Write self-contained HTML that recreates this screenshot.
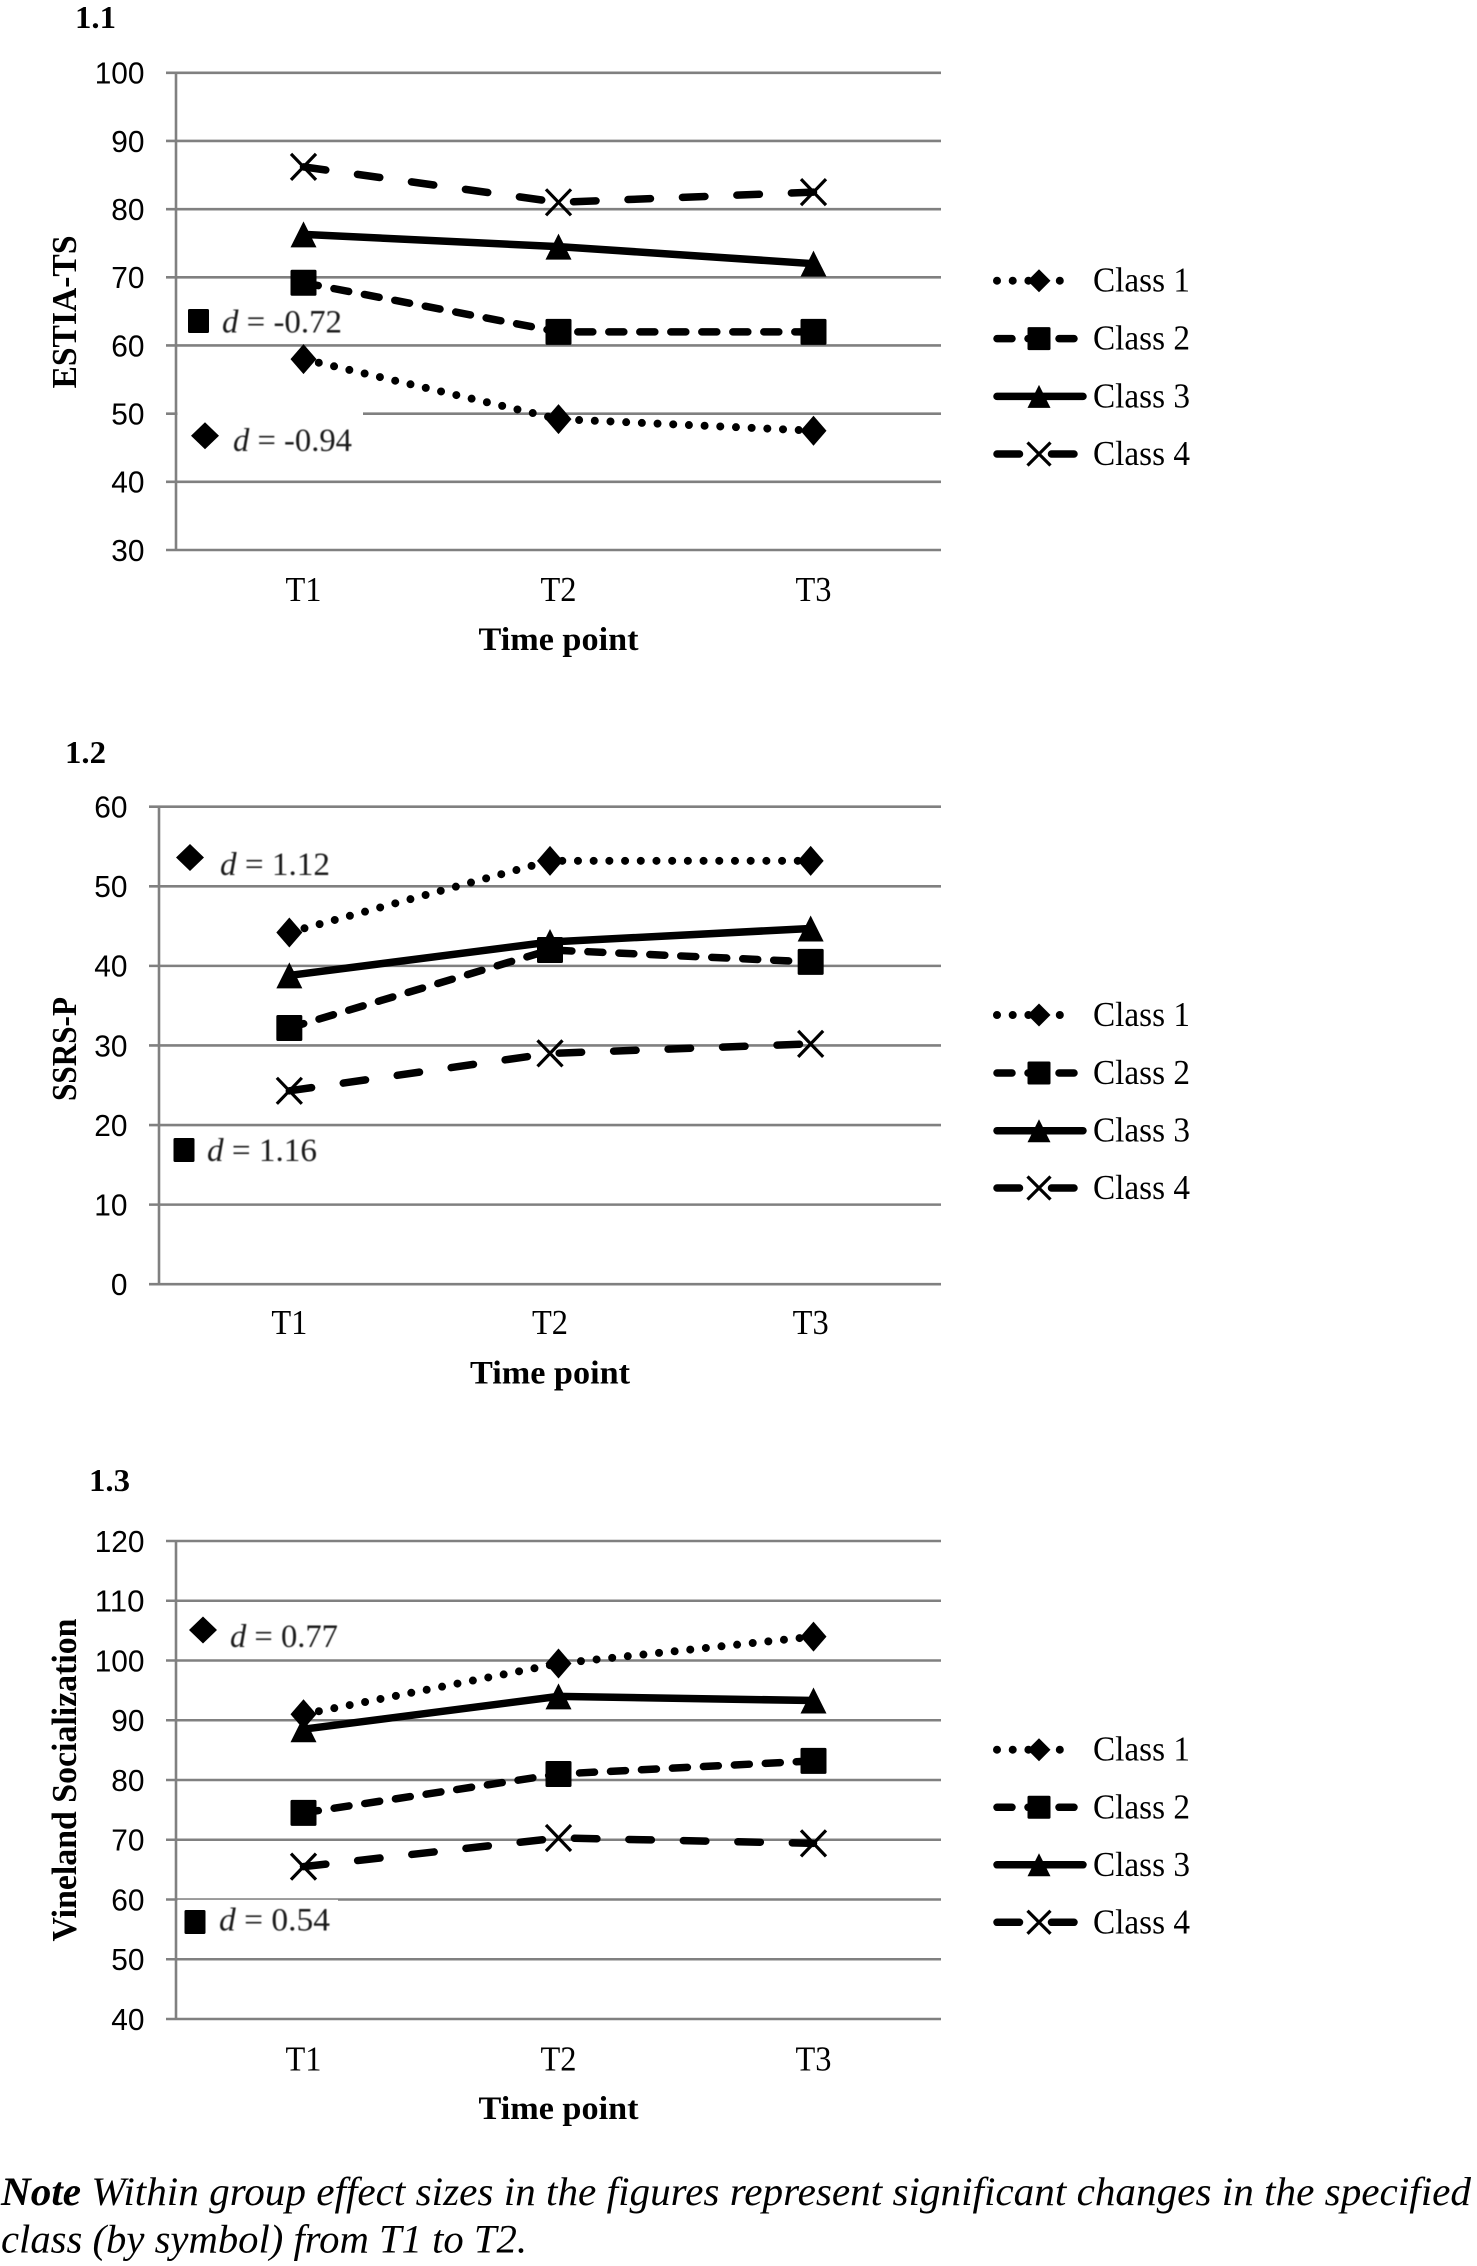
<!DOCTYPE html>
<html lang="en">
<head>
<meta charset="utf-8">
<title>Class trajectories across time points</title>
<style>
html,body{margin:0;padding:0;background:#fff;}
svg{display:block;}
text{fill:#000;}
</style>
</head>
<body>
<svg id="figure" xmlns="http://www.w3.org/2000/svg" width="1477" height="2266" viewBox="0 0 1477 2266">
<rect x="0" y="0" width="1477" height="2266" fill="#fff"/>
<text x="1" y="2205" font-family="'Liberation Serif',serif" font-size="40" font-style="italic" textLength="1470" lengthAdjust="spacingAndGlyphs"><tspan font-weight="bold">Note</tspan> Within group effect sizes in the figures represent significant changes in the specified</text>
<text x="1" y="2252.5" font-family="'Liberation Serif',serif" font-size="40" font-style="italic" textLength="526" lengthAdjust="spacingAndGlyphs">class (by symbol) from T1 to T2.</text>
</svg>
<script>
const categories = ['T1', 'T2', 'T3'];
const classNames = ['Class 1', 'Class 2', 'Class 3', 'Class 4'];

const estiaTicks = [30, 40, 50, 60, 70, 80, 90, 100];
const estiaClass1 = [58, 49.2, 47.5];
const estiaClass2 = [69.2, 62, 62];
const estiaClass3 = [76.3, 74.5, 72];
const estiaClass4 = [86.2, 81, 82.5];

const ssrsTicks = [0, 10, 20, 30, 40, 50, 60];
const ssrsClass1 = [44.2, 53.2, 53.2];
const ssrsClass2 = [32.2, 42, 40.5];
const ssrsClass3 = [38.8, 43, 44.7];
const ssrsClass4 = [24.3, 29, 30.2];

const vinelandTicks = [40, 50, 60, 70, 80, 90, 100, 110, 120];
const vinelandClass1 = [91, 99.5, 104];
const vinelandClass2 = [74.5, 81, 83.2];
const vinelandClass3 = [88.5, 94, 93.3];
const vinelandClass4 = [65.5, 70.3, 69.4];

const NS = 'http://www.w3.org/2000/svg';
const root = document.getElementById('figure');
const SERIF = "'Liberation Serif',serif";
const SANS = "'Liberation Sans',sans-serif";
const GRID = '#808080';

function mk(tag, attrs, parent) {
  const n = document.createElementNS(NS, tag);
  for (const k in attrs) n.setAttribute(k, attrs[k]);
  (parent || root).appendChild(n);
  return n;
}

function seriesStyle(kind) {
  if (kind === 0) return {'stroke-width': 8, 'stroke-dasharray': '0 15.7', 'stroke-linecap': 'round'};
  if (kind === 1) return {'stroke-width': 7.5, 'stroke-dasharray': '15 16', 'stroke-linecap': 'round'};
  if (kind === 2) return {'stroke-width': 7.5, 'stroke-linecap': 'round'};
  return {'stroke-width': 7.5, 'stroke-dasharray': '22.5 32', 'stroke-linecap': 'round'};
}

function marker(kind, cx, cy, hw, hh, parent) {
  if (kind === 0) {
    return mk('polygon', {points: [cx, cy - hh, cx + hw, cy, cx, cy + hh, cx - hw, cy].join(' '), fill: '#000'}, parent);
  }
  if (kind === 1) {
    return mk('rect', {x: cx - hw, y: cy - hh, width: 2 * hw, height: 2 * hh, fill: '#000', rx: 1.5}, parent);
  }
  if (kind === 2) {
    return mk('polygon', {points: [cx, cy - hh, cx + hw, cy + hh, cx - hw, cy + hh].join(' '), fill: '#000'}, parent);
  }
  const d = `M${cx - hw} ${cy - hh}L${cx + hw} ${cy + hh}M${cx + hw} ${cy - hh}L${cx - hw} ${cy + hh}`;
  return mk('path', {d: d, stroke: '#000', 'stroke-width': 3.2, fill: 'none'}, parent);
}

function drawAnnotation(parent, kind, cx, cy, hw, hh, textX, textEnd, baseline, label) {
  const g = mk('g', {}, parent);
  
  
  marker(kind, cx, cy, hw, hh, g);
  const t = mk('text', {x: textX, y: baseline, 'font-family': SERIF, 'font-size': 33, textLength: textEnd - textX, lengthAdjust: 'spacingAndGlyphs', style: 'fill:#1a1a1a;filter:blur(0.4px)'}, g);
  const d = mk('tspan', {'font-style': 'italic'}, t);
  d.textContent = 'd';
  const rest = mk('tspan', {}, t);
  rest.textContent = ' = ' + label;
}

function drawLegend(parent, rowYs) {
  const lineEnds = [1075, 1075, 1083, 1075];
  classNames.forEach(function (name, i) {
    const y = rowYs[i];
    const g = mk('g', {}, parent);
    
    
    mk('line', Object.assign({x1: 997, y1: y, x2: lineEnds[i], y2: y, stroke: '#000'}, seriesStyle(i)), g);
    marker(i, 1039, y, 11.5, 11.5, g);
    const t = mk('text', {x: 1093, y: y + 11, 'font-family': SERIF, 'font-size': 35, textLength: 97, lengthAdjust: 'spacingAndGlyphs'}, g);
    t.textContent = name;
  });
}

function drawChart(cfg) {
  const g = mk('g', {});
  
  

  const lo = cfg.ticks[0];
  const hi = cfg.ticks[cfg.ticks.length - 1];
  const yScale = function (v) { return cfg.top + (hi - v) / (hi - lo) * (cfg.bottom - cfg.top); };
  const band = (cfg.right - cfg.left) / categories.length;
  const xScale = function (i) { return cfg.left + band * (i + 0.5); };

  const panel = mk('text', {x: cfg.panelX, y: cfg.panelY, 'font-family': SERIF, 'font-size': 32, 'font-weight': 'bold', textLength: 41, lengthAdjust: 'spacingAndGlyphs'}, g);
  
  
  panel.textContent = cfg.panel;

  cfg.ticks.forEach(function (v) {
    const py = yScale(v);
    const line = mk('line', {x1: cfg.left - 10, y1: py, x2: cfg.right, y2: py, stroke: GRID, 'stroke-width': 2.6}, g);
    
    
    const label = mk('text', {x: cfg.left - 31.5, y: py + 10.8, 'text-anchor': 'end', 'font-family': SANS, 'font-size': 31, textLength: String(v).length * 16.6, lengthAdjust: 'spacingAndGlyphs'}, g);
    
    
    label.textContent = v;
  });

  const axis = mk('line', {x1: cfg.left, y1: yScale(hi) - 1, x2: cfg.left, y2: yScale(lo) + 1, stroke: GRID, 'stroke-width': 2.6}, g);
  
  

  cfg.masks.forEach(function (m) {
    const r = mk('rect', {x: cfg.left + 1.5, y: m.y, width: m.x2 - cfg.left - 1.5, height: m.h, fill: '#fff'}, g);
    
    
  });

  categories.forEach(function (c, i) {
    const t = mk('text', {x: xScale(i), y: cfg.tickBaseline, 'text-anchor': 'middle', 'font-family': SERIF, 'font-size': 35, textLength: 36, lengthAdjust: 'spacingAndGlyphs'}, g);
    
    
    t.textContent = c;
  });

  const xTitle = mk('text', {x: xScale(1), y: cfg.titleBaseline, 'text-anchor': 'middle', 'font-family': SERIF, 'font-size': 33, 'font-weight': 'bold', textLength: 160, lengthAdjust: 'spacingAndGlyphs'}, g);
  
  
  xTitle.textContent = 'Time point';

  const yTitle = mk('text', {transform: 'translate(76,' + cfg.yTitleCenter + ') rotate(-90)', 'text-anchor': 'middle', 'font-family': SERIF, 'font-size': 35, 'font-weight': 'bold', textLength: cfg.yTitleLength, lengthAdjust: 'spacingAndGlyphs'}, g);
  
  
  yTitle.textContent = cfg.yTitle;

  cfg.annotations.forEach(function (a) {
    drawAnnotation(g, a.kind, a.cx, a.cy, a.hw, a.hh, a.x1, a.x2, a.base, a.label);
  });

  cfg.series.forEach(function (values, s) {
    const sg = mk('g', {}, g);
    
    
    const pts = values.map(function (v, i) { return xScale(i) + ',' + yScale(v); }).join(' ');
    const line = mk('polyline', Object.assign({points: pts, fill: 'none', stroke: '#000', 'stroke-linejoin': 'round'}, seriesStyle(s)), sg);
    
    
    values.forEach(function (v, i) {
      const size = s === 0 ? [13, 15] : (s === 3 ? [12.5, 13] : [13, 13]);
      const m = marker(s, xScale(i), yScale(v), size[0], size[1], sg);
      
      
    });
  });

  const legend = mk('g', {}, g);
  
  
  drawLegend(legend, cfg.legendRows);
}

drawChart({
  name: 'chart-estia-ts', panel: '1.1', panelX: 75, panelY: 28,
  ticks: estiaTicks, series: [estiaClass1, estiaClass2, estiaClass3, estiaClass4],
  left: 176, right: 941, top: 72.8, bottom: 550,
  tickBaseline: 601, titleBaseline: 650,
  yTitle: 'ESTIA-TS', yTitleCenter: 312, yTitleLength: 153,
  masks: [{y: 408, h: 12, x2: 363}],
  legendRows: [280.7, 338.6, 396.4, 454],
  annotations: [
    {kind: 1, cx: 198.5, cy: 321, hw: 10.5, hh: 12, x1: 222, x2: 342, base: 332.5, label: '-0.72'},
    {kind: 0, cx: 205, cy: 435.7, hw: 14, hh: 13.5, x1: 233, x2: 352, base: 451, label: '-0.94'}
  ]
});

drawChart({
  name: 'chart-ssrs-p', panel: '1.2', panelX: 65, panelY: 763,
  ticks: ssrsTicks, series: [ssrsClass1, ssrsClass2, ssrsClass3, ssrsClass4],
  left: 159, right: 941, top: 806.7, bottom: 1284.2,
  tickBaseline: 1334, titleBaseline: 1383.5,
  yTitle: 'SSRS-P', yTitleCenter: 1049, yTitleLength: 104,
  masks: [],
  legendRows: [1015, 1073, 1130.7, 1188],
  annotations: [
    {kind: 0, cx: 190, cy: 857.5, hw: 14, hh: 13.5, x1: 220, x2: 330, base: 875, label: '1.12'},
    {kind: 1, cx: 184, cy: 1150, hw: 10.5, hh: 12, x1: 207, x2: 317, base: 1161, label: '1.16'}
  ]
});

drawChart({
  name: 'chart-vineland-socialization', panel: '1.3', panelX: 89, panelY: 1491,
  ticks: vinelandTicks, series: [vinelandClass1, vinelandClass2, vinelandClass3, vinelandClass4],
  left: 176, right: 941, top: 1541, bottom: 2019,
  tickBaseline: 2070.6, titleBaseline: 2119,
  yTitle: 'Vineland Socialization', yTitleCenter: 1780, yTitleLength: 323,
  masks: [{y: 1899.8, h: 10, x2: 338}],
  legendRows: [1749.7, 1807.3, 1864.8, 1922.3],
  annotations: [
    {kind: 0, cx: 203, cy: 1630, hw: 14, hh: 13.5, x1: 230, x2: 338, base: 1647, label: '0.77'},
    {kind: 1, cx: 195, cy: 1922, hw: 10.5, hh: 12, x1: 219, x2: 330, base: 1930.5, label: '0.54'}
  ]
});
</script>
</body>
</html>
